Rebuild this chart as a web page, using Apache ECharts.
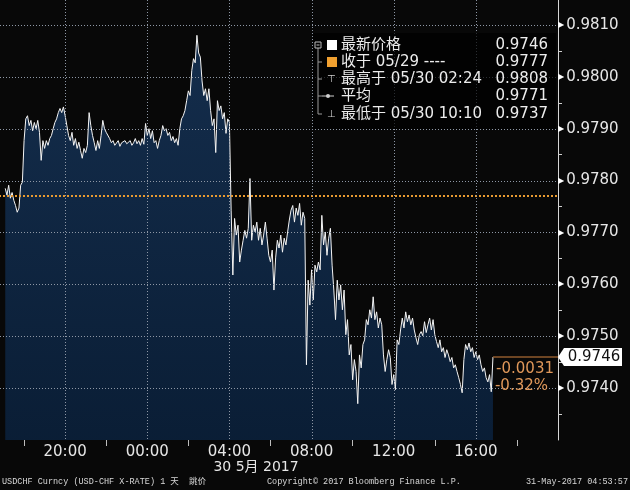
<!DOCTYPE html>
<html><head><meta charset="utf-8">
<style>html,body{margin:0;padding:0;background:#080808;}#c{width:630px;height:490px;}</style>
<script src="https://cdn.jsdelivr.net/npm/echarts@6.0.0/dist/echarts.min.js"></script>
</head><body><div id="c"></div>
<script>
// ---- data (5-minute samples starting 29 May 17:05, hours since 29 May 00:00) ----
const startHour = 17 + 5 / 60;
const stepHour = 5 / 60;
const prices = [
  // 17:05-18:00
  0.97785,0.97772,0.97791,0.97766,0.97777,0.97762,0.97752,0.97739,0.97747,0.97791,0.97797,0.97877,
  // 18
  0.97919,0.97925,0.97906,0.97916,0.97896,0.97912,0.97900,0.97916,0.97893,0.97839,0.97877,0.97862,
  // 19
  0.97877,0.97868,0.97881,0.97887,0.97900,0.97912,0.97919,0.97931,0.97939,0.97931,0.97942,0.97925,
  // 20
  0.97906,0.97887,0.97877,0.97893,0.97868,0.97881,0.97862,0.97874,0.97858,0.97843,0.97862,0.97854,
  // 21
  0.97868,0.97931,0.97906,0.97887,0.97873,0.97858,0.97877,0.97862,0.97887,0.97916,0.97900,0.97893,
  // 22
  0.97896,0.97881,0.97873,0.97877,0.97868,0.97871,0.97877,0.97866,0.97873,0.97870,0.97877,0.97871,
  // 23
  0.97873,0.97877,0.97868,0.97873,0.97881,0.97871,0.97877,0.97868,0.97881,0.97870,0.97910,0.97887,
  // 00
  0.97900,0.97881,0.97896,0.97873,0.97877,0.97862,0.97877,0.97887,0.97906,0.97896,0.97900,0.97887,
  // 01
  0.97893,0.97877,0.97885,0.97873,0.97881,0.97868,0.97900,0.97919,0.97925,0.97935,0.97954,0.97973,
  // 02
  0.97964,0.98012,0.98035,0.98027,0.98080,0.98046,0.98038,0.97992,0.97964,0.97977,0.97954,0.97977,
  // 03
  0.97935,0.97906,0.97919,0.97854,0.97954,0.97935,0.97944,0.97919,0.97931,0.97891,0.97919,0.97912,
  // 04
  0.97743,0.97618,0.97727,0.97695,0.97714,0.97643,0.97666,0.97685,0.97704,0.97689,0.97708,0.97804,
  // 05
  0.97685,0.97714,0.97701,0.97720,0.97685,0.97708,0.97676,0.97695,0.97720,0.97689,0.97656,0.97643,
  // 06
  0.97666,0.97589,0.97651,0.97685,0.97670,0.97695,0.97662,0.97689,0.97676,0.97701,0.97724,0.97743,
  // 07
  0.97752,0.97720,0.97747,0.97733,0.97756,0.97714,0.97739,0.97727,0.97445,0.97608,0.97560,0.97628,
  // 08
  0.97570,0.97637,0.97624,0.97643,0.97628,0.97733,0.97676,0.97701,0.97656,0.97689,0.97708,0.97637,
  // 09
  0.97589,0.97532,0.97608,0.97570,0.97599,0.97551,0.97589,0.97503,0.97532,0.97464,0.97484,0.97416,
  // 10
  0.97455,0.97432,0.97370,0.97464,0.97439,0.97484,0.97493,0.97532,0.97522,0.97551,0.97535,0.97576,
  // 11
  0.97532,0.97547,0.97516,0.97535,0.97522,0.97464,0.97432,0.97455,0.97474,0.97459,0.97407,0.97426,
  // 12
  0.97397,0.97493,0.97484,0.97512,0.97535,0.97516,0.97547,0.97528,0.97541,0.97522,0.97535,0.97512,
  // 13
  0.97497,0.97484,0.97503,0.97509,0.97501,0.97528,0.97507,0.97522,0.97535,0.97512,0.97532,0.97503,
  // 14
  0.97490,0.97478,0.97493,0.97470,0.97478,0.97459,0.97474,0.97464,0.97451,0.97459,0.97439,0.97445,
  // 15
  0.97432,0.97420,0.97407,0.97391,0.97455,0.97484,0.97474,0.97487,0.97470,0.97478,0.97459,0.97470,
  // 16:05-16:50
  0.97455,0.97464,0.97445,0.97432,0.97439,0.97420,0.97412,0.97426,0.97393,0.97460
];
const closeValue = 0.9777;
const lastValue = 0.9746;
const xTickHours = [20, 24, 28, 32, 36, 40];
const xTickLabels = ['20:00', '00:00', '04:00', '08:00', '12:00', '16:00'];
const yGridValues = [0.974, 0.975, 0.976, 0.977, 0.978, 0.979, 0.980, 0.981];
const dateLabel = '30 5月 2017';
const legendNames = ['最新价格', '收于 05/29 ----', '最高于 05/30 02:24', '平均', '最低于 05/30 10:10'];
const legendValues = ['0.9746', '0.9777', '0.9808', '0.9771', '0.9737'];
const changeTexts = ['-0.0031', '-0.32%'];
const footerTexts = ['USDCHF Curncy (USD-CHF X-RATE) 1 天  跳价', 'Copyright© 2017 Bloomberg Finance L.P.', '31-May-2017 04:53:57'];

// ---- chart ----
const seriesData = prices.map((v, i) => [startHour + i * stepHour, v]);
const lastHour = seriesData[seriesData.length - 1][0];
const X_MIN = 16, X_MAX = 44;
const NUMF = 'DejaVu Sans, Noto Sans CJK SC, sans-serif';

const chart = echarts.init(document.getElementById('c'), null, { renderer: 'canvas' });
const option = {
  animation: false,
  backgroundColor: '#080808',
  grid: { left: -17, right: 72, top: -1, bottom: 50, containLabel: false, outerBoundsMode: 'none' },
  xAxis: {
    type: 'value', min: X_MIN, max: X_MAX, interval: 4,
    axisLine: { show: false },
    axisTick: { show: false },
    minorTick: { show: true, splitNumber: 2, length: 6, lineStyle: { color: '#bdbdbd', width: 1 } },
    splitLine: { show: false },
    axisLabel: {
      showMinLabel: false, showMaxLabel: false, margin: 5,
      color: '#e6e6e6', fontSize: 15, fontFamily: NUMF,
      formatter: v => { const k = xTickHours.indexOf(Math.round(v)); return k >= 0 ? xTickLabels[k] : ''; }
    }
  },
  yAxis: {
    type: 'value', position: 'right', min: 0.9730, max: 0.9815, interval: 0.001,
    axisLine: { show: true, lineStyle: { color: '#d6d6d6', width: 1 } },
    axisTick: { show: false },
    minorTick: { show: true, splitNumber: 2, length: 4, lineStyle: { color: '#cfcfcf' } },
    splitLine: { show: false },
    axisLabel: {
      showMinLabel: false, showMaxLabel: false, margin: 0,
      formatter: v => '{t|▶}{v|' + v.toFixed(4) + '}',
      rich: {
        t: { fontSize: 8, color: '#ffffff', fontFamily: 'DejaVu Sans' },
        v: { fontSize: 15, color: '#e6e6e6', fontFamily: NUMF, padding: [0, 0, 0, 2] }
      }
    }
  },
  series: [{
    type: 'line',
    data: seriesData,
    showSymbol: false,
    lineStyle: { color: '#f4f4f4', width: 1 },
    areaStyle: {
      color: new echarts.graphic.LinearGradient(0, 0, 0, 1, [
        { offset: 0, color: '#193d69' },
        { offset: 1, color: '#0b2749' }
      ])
    },
    markLine: {
      silent: true, symbol: 'none', animation: false, precision: 6,
      data: [
        { yAxis: closeValue, label: { show: false }, lineStyle: { color: '#e89a30', type: [2, 2], width: 2, opacity: 1 } },
        [
          { coord: [lastHour, lastValue], label: { show: false }, lineStyle: { color: '#8f5a2c', type: 'solid', width: 1.5, opacity: 1 } },
          { coord: [X_MAX, lastValue] }
        ]
      ]
    }
  }]
};
chart.setOption(option);

// ---- annotations positioned through the chart's own scales ----
const pLast = chart.convertToPixel({ gridIndex: 0 }, [X_MAX, lastValue]);
const p04 = chart.convertToPixel({ gridIndex: 0 }, [28, lastValue]);
const pTopLeft = chart.convertToPixel({ gridIndex: 0 }, [17, 0.9815]);
const pBottom = chart.convertToPixel({ gridIndex: 0 }, [X_MAX, 0.9730]);
const ax = pLast[0], ay = pLast[1];
const g = [];
// dotted grid lines, drawn on top of the area (positions from the axes' scales)
const dotStyle = { stroke: '#8e97a5', lineWidth: 1, lineDash: [1, 2] };
yGridValues.forEach(v => {
  const y = Math.round(chart.convertToPixel({ yAxisIndex: 0 }, v)) + 0.5;
  g.push({ type: 'line', silent: true, shape: { x1: 0, y1: y, x2: ax, y2: y }, style: dotStyle, z: 50 });
});
xTickHours.forEach(h => {
  const x = Math.round(chart.convertToPixel({ xAxisIndex: 0 }, h)) + 0.5;
  g.push({ type: 'line', silent: true, shape: { x1: x, y1: 0, x2: x, y2: pBottom[1] }, style: dotStyle, z: 50 });
});
// price tag
g.push({ type: 'polygon', shape: { points: [[ax, ay], [ax + 6, ay - 9], [ax + 64, ay - 9], [ax + 64, ay + 9], [ax + 6, ay + 9]] },
  style: { fill: '#ffffff' }, z: 100 });
g.push({ type: 'text', x: ax + 36, y: ay, style: { text: legendValues[0], fill: '#111', font: '15px ' + NUMF, textAlign: 'center', textVerticalAlign: 'middle' }, z: 101 });
// change labels
g.push({ type: 'text', x: ax - 4, y: ay + 12, style: { text: changeTexts[0], fill: '#e0985a', font: '15px ' + NUMF, textAlign: 'right', textVerticalAlign: 'middle' }, z: 101 });
g.push({ type: 'text', x: ax - 10, y: ay + 29, style: { text: changeTexts[1], fill: '#e0985a', font: '15px ' + NUMF, textAlign: 'right', textVerticalAlign: 'middle' }, z: 101 });
// date under 04:00
g.push({ type: 'text', x: p04[0] - 16, y: 467, style: { text: dateLabel, fill: '#e6e6e6', font: '14px ' + NUMF, textAlign: 'left', textVerticalAlign: 'middle' }, z: 101 });
// legend box
const lx = 313, ly = 33, rowY = [45, 62, 79, 96, 114];
g.push({ type: 'rect', shape: { x: lx, y: ly, width: 243, height: 96 }, style: { fill: 'rgba(0,0,0,0.7)' }, z: 90 });
// tree lines
g.push({ type: 'line', shape: { x1: 318, y1: 48, x2: 318, y2: rowY[4] }, style: { stroke: '#9a9a9a', lineWidth: 1 }, z: 95 });
[1, 2, 3, 4].forEach(k => g.push({ type: 'line', shape: { x1: 318, y1: rowY[k], x2: 322, y2: rowY[k] }, style: { stroke: '#9a9a9a', lineWidth: 1 }, z: 95 }));
g.push({ type: 'rect', shape: { x: 315, y: rowY[0] - 3, width: 6, height: 6 }, style: { fill: '#000', stroke: '#bbbbbb', lineWidth: 1 }, z: 96 });
g.push({ type: 'line', shape: { x1: 316.5, y1: rowY[0], x2: 319.5, y2: rowY[0] }, style: { stroke: '#bbbbbb', lineWidth: 1 }, z: 97 });
g.push({ type: 'rect', shape: { x: 327, y: rowY[0] - 5, width: 10, height: 10 }, style: { fill: '#ffffff' }, z: 96 });
g.push({ type: 'rect', shape: { x: 327, y: rowY[1] - 5, width: 10, height: 10 }, style: { fill: '#f0a030' }, z: 96 });
g.push({ type: 'text', x: 327, y: rowY[2], style: { text: '⊤', fill: '#cfcfcf', font: '10px DejaVu Sans', textVerticalAlign: 'middle' }, z: 96 });
g.push({ type: 'line', shape: { x1: 322, y1: rowY[3], x2: 334, y2: rowY[3] }, style: { stroke: '#cfcfcf', lineWidth: 1 }, z: 96 });
g.push({ type: 'circle', shape: { cx: 328, cy: rowY[3], r: 2 }, style: { fill: '#cfcfcf' }, z: 96 });
g.push({ type: 'text', x: 327, y: rowY[4], style: { text: '⊥', fill: '#cfcfcf', font: '10px DejaVu Sans', textVerticalAlign: 'middle' }, z: 96 });
legendNames.forEach((n, k) => {
  g.push({ type: 'text', x: 341, y: rowY[k], style: { text: n, fill: '#ececec', font: '15px ' + NUMF, textVerticalAlign: 'middle' }, z: 96 });
  g.push({ type: 'text', x: 548, y: rowY[k], style: { text: legendValues[k], fill: '#ececec', font: '15px ' + NUMF, textAlign: 'right', textVerticalAlign: 'middle' }, z: 96 });
});
// footer
const FF = '8.5px Liberation Mono, DejaVu Sans Mono, Noto Sans CJK SC, monospace';
g.push({ type: 'text', x: 2, y: 482, style: { text: footerTexts[0], fill: '#d8d8d8', font: FF, textVerticalAlign: 'middle' }, z: 96 });
g.push({ type: 'text', x: 267, y: 482, style: { text: footerTexts[1], fill: '#d8d8d8', font: FF, textVerticalAlign: 'middle' }, z: 96 });
g.push({ type: 'text', x: 628, y: 482, style: { text: footerTexts[2], fill: '#d8d8d8', font: FF, textAlign: 'right', textVerticalAlign: 'middle' }, z: 96 });
chart.setOption({ graphic: g });
</script>
</body></html>
